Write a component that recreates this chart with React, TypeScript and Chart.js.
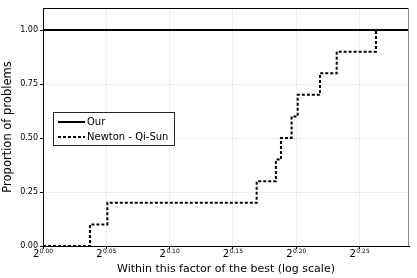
import React, { useEffect, useRef } from "react";
import { Chart, registerables } from "chart.js";

Chart.register(...registerables);

// log2 of the performance ratio (x axis is log scale base 2)
const xTickExps = [0, 0.05, 0.1, 0.15, 0.2, 0.25];
const xTickLabels = ["0.00", "0.05", "0.10", "0.15", "0.20", "0.25"];
const yTicks = [0, 0.25, 0.5, 0.75, 1.0];

const ourX = [0, 0.289];
const ourY = [1.0, 1.0];

const newtonX = [0, 0.0371, 0.0508, 0.1687, 0.1839, 0.1879, 0.1963, 0.2011, 0.2187, 0.2319, 0.2629, 0.289];
const newtonY = [0, 0.1, 0.2, 0.3, 0.4, 0.5, 0.6, 0.7, 0.8, 0.9, 1.0, 1.0];

const seriesNames = ["Our", "Newton - Qi-Sun"];

const FONT = "'DejaVu Sans', sans-serif";

const decorPlugin = {
  id: "decor",
  afterDraw(chart: any) {
    const ctx = chart.ctx as CanvasRenderingContext2D;
    const { left, right, top, bottom } = chart.chartArea;
    const xs = chart.scales.x;
    ctx.save();
    // top & right frame
    ctx.lineWidth = 1;
    ctx.strokeStyle = "#000";
    ctx.beginPath();
    ctx.moveTo(left, top + 0.5);
    ctx.lineTo(right, top + 0.5);
    ctx.stroke();
    ctx.strokeStyle = "#888";
    ctx.beginPath();
    ctx.moveTo(right - 0.5, top);
    ctx.lineTo(right - 0.5, bottom);
    ctx.stroke();

    // x tick labels with superscripts
    ctx.fillStyle = "#000";
    ctx.textBaseline = "alphabetic";
    ctx.textAlign = "left";
    xTickExps.forEach((v, i) => {
      const px = xs.getPixelForValue(v);
      ctx.font = `10px ${FONT}`;
      const wb = ctx.measureText("2").width;
      ctx.font = `6px ${FONT}`;
      const we = ctx.measureText(xTickLabels[i]).width;
      const x0 = px - (wb + we + 0.5) / 2;
      ctx.font = `10px ${FONT}`;
      ctx.fillText("2", x0, 256.5);
      ctx.font = `6px ${FONT}`;
      ctx.fillText(xTickLabels[i], x0 + wb + 0.5, 252.5);
    });

    // legend inside plot
    const bx = 53.5, by = 112.5, bw = 121, bh = 33;
    ctx.fillStyle = "#fff";
    ctx.fillRect(bx, by, bw, bh);
    ctx.strokeStyle = "#222";
    ctx.lineWidth = 1;
    ctx.strokeRect(bx, by, bw, bh);
    const rows = [122, 137];
    rows.forEach((ry, i) => {
      ctx.strokeStyle = "#000";
      ctx.lineWidth = 2;
      ctx.setLineDash(i === 0 ? [] : [3, 2]);
      ctx.beginPath();
      ctx.moveTo(58, ry);
      ctx.lineTo(85, ry);
      ctx.stroke();
      ctx.setLineDash([]);
      ctx.fillStyle = "#000";
      ctx.font = `10px ${FONT}`;
      ctx.textBaseline = "middle";
      ctx.fillText(seriesNames[i], 87, ry + 0.5);
    });
    ctx.restore();
  },
};

export default function App() {
  const ref = useRef<HTMLCanvasElement | null>(null);
  useEffect(() => {
    document.body.style.margin = "0";
    if (!ref.current) return;
    const chart = new Chart(ref.current, {
      type: "line",
      data: {
        datasets: [
          {
            label: seriesNames[0],
            data: ourX.map((x, i) => ({ x, y: ourY[i] })),
            borderColor: "#000",
            borderWidth: 2,
            pointRadius: 0,
            fill: false,
          },
          {
            label: seriesNames[1],
            data: newtonX.map((x, i) => ({ x, y: newtonY[i] })),
            borderColor: "#000",
            borderWidth: 2,
            borderDash: [3, 2],
            pointRadius: 0,
            stepped: "before",
            fill: false,
          },
        ],
      },
      plugins: [decorPlugin],
      options: {
        responsive: false,
        animation: false,
        layout: { padding: { left: 0, right: 8, top: 8, bottom: 0 } },
        plugins: { legend: { display: false }, tooltip: { enabled: false } },
        scales: {
          x: {
            type: "linear",
            min: 0,
            max: 0.289,
            afterBuildTicks: (s: any) => {
              s.ticks = xTickExps.map((v) => ({ value: v }));
            },
            afterFit: (s: any) => {
              s.height = 32;
            },
            ticks: { callback: () => "", font: { size: 8, family: FONT } },
            grid: { color: "rgba(0,0,0,0.07)", tickLength: 3, tickColor: "#000" },
            border: { display: true, color: "#000", width: 1 },
            title: {
              display: true,
              text: "Within this factor of the best (log scale)",
              color: "#000",
              font: { size: 11, family: FONT },
              padding: { top: 0, bottom: 2 },
            },
          },
          y: {
            type: "linear",
            min: 0,
            max: 1.102,
            afterBuildTicks: (s: any) => {
              s.ticks = yTicks.map((v) => ({ value: v }));
            },
            afterFit: (s: any) => {
              s.width = 43;
            },
            ticks: {
              callback: (v: any) => Number(v).toFixed(2),
              color: "#000",
              font: { size: 8, family: FONT },
              padding: 2,
            },
            grid: { color: "rgba(0,0,0,0.07)", tickLength: 3, tickColor: "#000" },
            border: { display: true, color: "#000", width: 1 },
            title: {
              display: true,
              text: "Proportion of problems",
              color: "#000",
              font: { size: 11.5, family: FONT },
              padding: { top: 1, bottom: 0 },
            },
          },
        },
      },
    });
    return () => chart.destroy();
  }, []);
  return (
    <div style={{ position: "absolute", left: 0, top: 0, width: 417, height: 278 }}>
      <canvas ref={ref} width={417} height={278} />
    </div>
  );
}
